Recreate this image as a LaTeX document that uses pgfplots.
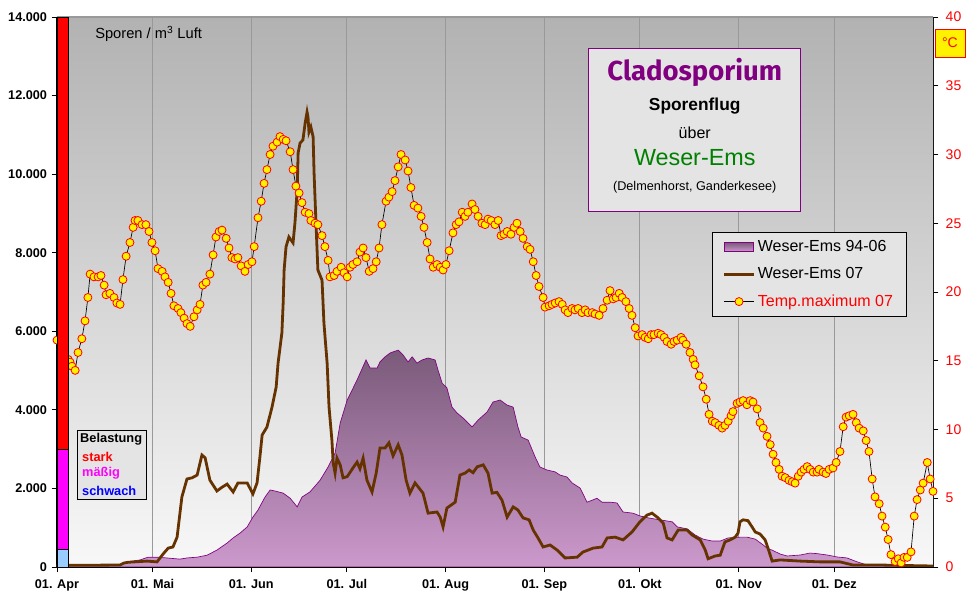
\documentclass[border=0pt]{standalone}
\usepackage{pgfplots}
\pgfplotsset{compat=1.18}
\usepackage{pgfplotstable}
\usepackage{fontspec}
\setmainfont{Liberation Sans}
\newfontfamily\titlefont{Fira Sans}
\definecolor{brownline}{HTML}{663300}
\definecolor{areaTop}{HTML}{7A5A7A}
\definecolor{areaBot}{HTML}{CC99CC}
\definecolor{areaEdge}{HTML}{800080}
\definecolor{bgTop}{HTML}{B2B2B2}
\definecolor{bgBot}{HTML}{F8F8F8}
\definecolor{boxgray}{HTML}{E4E4E4}
\definecolor{titlepurple}{HTML}{800080}
\definecolor{titlegreen}{HTML}{008000}
\definecolor{lightblue}{HTML}{99CCFF}
\definecolor{gridgray}{HTML}{999999}
\definecolor{magentabar}{HTML}{FF00FF}

\pgfplotstableread{
d v
0 60
3.5 60
9.4 60
19.8 60
22.0 130
26.1 180
28.6 250
31.4 250
34.5 230
38.6 200
40.8 230
44.0 250
47.1 300
50.2 430
53.4 610
55.3 740
57.5 865
59.7 1020
61.5 1270
63.1 1450
65.3 1780
66.9 1960
68.4 1935
71.0 1880
73.2 1750
75.4 1530
76.9 1780
79.4 1910
82.6 2210
85.1 2545
87.3 2900
88.9 3665
91.1 4250
94.2 4760
97.0 5270
98.3 5065
100.5 5065
101.4 5220
103.0 5350
104.6 5450
107.1 5520
108.6 5400
110.2 5220
111.5 5350
113.0 5190
114.6 5270
116.5 5320
118.7 5270
119.6 5015
120.9 4680
122.4 4560
124.0 4070
125.6 3920
127.5 3790
130.3 3565
132.2 3740
135.0 3945
136.9 4200
139.1 4250
141.3 4120
143.2 4070
144.7 3565
145.7 3310
147.9 3230
150.1 2800
151.6 2545
153.8 2470
156.4 2420
157.9 2340
160.1 2290
161.7 2140
164.2 2010
166.4 1650
168.0 1700
169.5 1750
171.1 1650
173.6 1650
175.8 1630
177.7 1400
180.8 1370
183.0 1300
185.6 1250
189.3 1200
193.1 1150
194.7 1020
197.8 970
200.3 815
202.8 710
205.7 660
208.2 660
210.7 740
214.4 760
216.6 760
219.2 710
221.7 560
223.2 460
224.5 430
227.0 330
229.2 280
233.3 305
236.4 355
238.6 340
241.8 305
244.9 255
248.0 230
251.2 130
254.3 50
256.2 50
275 25
}\avgdata

\pgfplotstableread{
d v
0 40
19.8 50
21.0 100
22.3 120
28.3 150
31.4 130
33.3 330
34.9 480
36.4 510
37.7 760
39.2 1780
40.8 2240
42.4 2270
44.0 2340
45.5 2850
46.5 2780
48.0 2210
50.2 1935
51.8 2030
53.4 2110
55.3 1910
56.8 2140
59.7 2140
61.5 1860
62.8 2140
63.7 2800
64.4 3360
65.9 3560
67.5 4070
68.8 4580
69.4 5190
70.6 5960
71.0 6720
71.3 7560
71.9 8150
72.8 8400
74.1 8250
74.7 8760
75.4 9600
75.7 10540
76.3 10790
77.2 10870
77.9 11300
78.5 11580
78.8 11450
79.1 11070
79.7 11200
80.4 10950
80.7 10030
81.3 8760
81.9 7560
83.2 7300
83.8 6210
84.8 5190
85.4 4070
86.3 3230
86.7 2650
87.3 2390
87.9 2770
88.9 2600
89.8 2270
91.1 2300
92.9 2520
94.2 2670
95.1 2500
96.1 2770
97.3 2210
98.9 1910
100.2 2390
101.4 3030
103.0 3030
104.2 3160
105.5 2830
107.1 3110
108.3 2850
109.6 2210
110.8 1880
112.4 2140
114.9 1880
116.5 1370
119.3 1400
120.3 1270
121.2 1020
122.4 1500
125.0 1650
126.5 2340
128.1 2390
129.4 2470
130.6 2400
131.9 2550
133.8 2600
135.3 2390
136.6 1880
138.1 1900
139.7 1700
141.3 1270
143.2 1530
144.7 1450
146.3 1250
148.2 1200
149.5 940
151.0 740
152.6 510
154.8 560
157.0 430
159.5 230
163.3 250
165.1 380
168.3 480
171.1 510
172.7 740
175.2 760
177.7 690
180.5 890
183.0 1150
185.2 1320
186.8 1370
188.7 1250
190.3 1120
191.5 740
193.1 690
195.0 940
197.8 940
199.4 815
201.9 690
203.5 430
204.4 210
206.6 280
208.2 300
209.7 640
211.3 690
212.9 760
213.8 865
214.4 1150
215.4 1200
216.9 1180
218.2 1020
219.2 890
220.7 840
222.3 690
223.2 480
224.5 150
227.0 180
233.3 150
239.6 130
245.8 130
249.9 50
258.4 50
275 25
}\wedata

\pgfplotstableread{
d T
0 16.5
1.3 15.8
2.5 15.3
3.5 15.1
4.1 14.9
4.7 14.6
5.7 14.3
6.6 15.6
7.8 16.6
8.8 17.9
9.7 19.6
10.4 21.3
11.6 21.1
12.9 21.1
13.8 21.2
14.8 20.5
15.4 19.8
16.6 19.9
17.9 19.6
18.8 19.2
19.8 19.1
20.7 20.9
21.7 22.6
22.9 23.6
23.9 24.7
24.5 25.2
25.4 25.2
26.7 24.9
27.9 24.9
28.9 24.4
29.8 23.6
30.8 23.0
31.7 21.7
33.0 21.5
33.9 21.1
34.9 20.7
35.8 19.9
36.7 19.0
38.0 18.8
38.9 18.5
39.9 18.1
40.8 17.7
41.8 17.5
43.0 18.2
44.0 18.7
44.9 19.1
45.8 20.5
46.8 20.7
48.0 21.3
49.0 22.7
49.9 24.0
50.9 24.4
51.8 24.5
53.1 23.9
54.0 23.2
54.9 22.5
55.9 22.4
56.8 22.5
57.8 21.9
59.0 21.5
60.0 22.0
61.2 22.2
61.9 23.3
63.1 25.4
64.1 26.6
65.0 27.9
65.9 28.9
66.9 30.0
67.8 30.6
69.1 30.9
70.0 31.3
71.0 31.1
71.9 31.0
73.2 30.2
74.1 28.9
75.0 27.7
76.0 27.2
76.9 26.5
77.9 25.8
79.1 25.7
79.7 25.2
81.0 25.0
81.9 24.9
83.2 24.1
84.1 23.3
85.1 22.3
85.7 21.1
87.0 21.2
87.9 21.5
89.2 21.8
90.1 21.4
91.1 21.1
92.0 21.8
92.9 22.0
94.2 22.2
95.1 22.9
96.1 23.2
97.0 22.5
98.0 21.5
99.2 21.7
100.2 22.2
101.1 23.2
102.0 24.9
103.3 26.6
104.2 26.9
105.2 27.3
106.1 28.1
107.1 29.1
108.0 30.0
109.3 29.6
110.2 28.8
111.1 27.6
112.1 26.3
113.3 26.1
114.3 25.5
115.2 24.7
116.2 23.6
117.1 22.4
118.1 21.8
119.3 22.0
120.3 21.8
121.2 21.6
122.1 22.0
123.1 23.0
124.3 24.3
125.3 24.9
126.2 25.1
127.2 25.8
128.1 25.5
129.0 25.8
130.3 26.4
131.2 26.0
132.2 25.5
133.4 25.0
134.4 24.9
135.3 25.3
136.3 25.2
137.5 24.9
138.5 25.2
139.4 24.1
140.3 24.2
141.3 24.4
142.5 24.2
143.5 24.7
144.4 25.0
145.4 24.4
146.3 23.9
147.6 23.3
148.5 23.1
149.5 22.2
150.4 21.2
151.3 20.4
152.6 19.6
153.2 18.9
154.5 19.0
155.4 19.1
156.4 19.2
157.6 19.3
158.6 19.1
159.5 18.7
160.4 18.5
161.7 18.8
162.6 18.7
163.6 18.8
164.8 18.5
165.8 18.7
166.7 18.5
168.0 18.5
168.9 18.4
170.2 18.3
171.4 18.8
172.7 19.4
173.6 20.1
174.6 19.5
175.5 19.6
176.5 19.9
177.4 19.6
178.6 19.3
179.6 18.8
180.5 18.3
181.5 17.4
182.4 16.8
183.7 16.9
184.6 16.7
185.6 16.6
186.5 16.9
187.4 16.9
188.7 17.0
189.6 16.9
190.6 16.7
191.5 16.4
192.8 16.2
193.7 16.4
194.7 16.5
195.9 16.7
196.5 16.5
197.5 16.2
198.7 15.6
199.7 15.1
200.3 14.7
201.6 13.9
202.8 13.1
203.8 12.2
204.7 11.1
205.7 10.6
206.6 10.5
207.8 10.3
208.8 10.1
209.7 10.3
210.7 10.6
211.6 11.0
212.2 11.3
213.5 11.9
214.4 12.0
215.4 12.1
216.6 11.8
217.6 12.1
218.5 12.0
219.8 11.5
220.7 10.5
221.7 10.1
222.9 9.5
223.9 8.9
224.8 8.2
225.7 7.6
226.7 7.1
227.6 6.6
228.6 6.5
229.8 6.3
230.8 6.2
231.7 6.1
232.7 6.6
233.6 6.9
234.5 7.1
235.5 7.3
236.4 7.1
237.4 6.9
238.6 6.9
239.2 7.1
240.5 6.9
241.4 6.8
242.4 7.1
243.6 7.2
244.6 7.6
245.8 8.4
246.8 10.2
247.7 10.9
248.7 11.0
249.9 11.1
250.9 10.5
251.8 10.1
253.1 9.9
254.0 9.2
254.9 8.4
255.9 6.4
256.8 5.1
258.1 4.6
259.0 3.7
260.0 2.9
260.9 2.0
261.8 0.9
263.1 0.4
264.1 0.6
265.0 0.3
265.9 0.7
266.9 0.7
268.1 1.1
269.1 3.7
270.0 4.9
271.0 5.6
271.9 6.1
273.2 7.6
274.1 6.4
275.0 5.5
}\tempdata

\pgfplotsset{
  common/.style={
    width=657pt, height=412.5pt, scale only axis,
    xmin=0, xmax=275,
    tick align=outside,
    major tick length=4pt,
  }
}

\begin{document}
\begin{tikzpicture}
\begin{axis}[
  common, name=main,
  ymin=0, ymax=14000,
  axis x line*=bottom, axis y line*=left,
  axis line style={black, line width=0.9pt},
  tick style={black, line width=0.7pt},
  xtick={0,30,61,91,122,153,183,214,244},
  xticklabels={01. Apr,01. Mai,01. Jun,01. Jul,01. Aug,01. Sep,01. Okt,01. Nov,01. Dez},
  xticklabel style={font=\bfseries\fontsize{9.5}{11}\selectfont, yshift=-2pt},
  ytick={0,2000,4000,6000,8000,10000,12000,14000},
  yticklabel style={font=\bfseries\fontsize{9.5}{11}\selectfont},
  scaled y ticks=false,
  /pgf/number format/1000 sep={.},
  /pgf/number format/assume math mode=true,
  xmajorgrids, major grid style={gridgray, line width=0.7pt},
  axis background/.style={top color=bgTop, bottom color=bgBot},
]
\addplot[draw=areaEdge, line width=0.5pt, top color=areaTop, bottom color=areaBot] table[x=d,y=v]{\avgdata} \closedcycle;
\addplot[brownline, line width=2.1pt] table[x=d,y=v]{\wedata};
\draw[gridgray, line width=0.8pt] (rel axis cs:0,1) -- (rel axis cs:1,1);
\end{axis}

\begin{axis}[
  common, set layers,
  ymin=0, ymax=40,
  axis y line*=right, axis x line=none,
  axis line style={black, line width=0.9pt},
  tick style={black, line width=0.7pt},
  ytick={0,5,10,15,20,25,30,35,40},
  yticklabel style={red, font=\fontsize{10.5}{12}\selectfont, xshift=2pt},
  /pgf/number format/assume math mode=true,
  clip=false,
  legend style={at={(0.970,0.609)}, anchor=north east, fill=boxgray, draw=black, line width=0.6pt,
    font=\fontsize{12}{14}\selectfont, row sep=6.5pt, inner xsep=8pt, inner ysep=4pt},
  legend cell align=left,
]
\addlegendimage{legend image code/.code={\draw[draw=areaEdge, line width=0.6pt, top color=areaTop, bottom color=areaBot] (0cm,-0.12cm) rectangle (0.78cm,0.12cm);}}
\addlegendentry{Weser-Ems 94-06}
\addlegendimage{legend image code/.code={\draw[brownline, line width=2pt] (0cm,0cm) -- (0.78cm,0cm);}}
\addlegendentry{Weser-Ems 07}
\addplot[black, line width=0.5pt, mark=*, mark size=3pt, mark options={fill=yellow, draw=red, line width=0.6pt},
  legend image code/.code={\draw[black, line width=0.5pt] (0cm,0cm) -- (0.78cm,0cm); \draw[red, fill=yellow, line width=0.6pt] (0.39cm,0cm) circle (3pt);}]
  table[x=d,y=T]{\tempdata};
\addlegendentry{\textcolor{red}{Temp.maximum 07}}

\begin{pgfonlayer}{axis foreground}
% Belastung colour bar
\draw[black, line width=0.7pt, fill=red] (axis cs:0,8.571) rectangle (axis cs:3.45,40);
\draw[black, line width=0.7pt, fill=magentabar] (axis cs:0,1.286) rectangle (axis cs:3.45,8.571);
\draw[black, line width=0.7pt, fill=lightblue] (axis cs:0,0) rectangle (axis cs:3.45,1.286);

% Belastung legend box
\draw[black, line width=0.7pt, fill=boxgray] (rel axis cs:0.0228,0.249) rectangle (rel axis cs:0.1016,0.1236);
\node[anchor=west, font=\bfseries\fontsize{9.6}{10}\selectfont, inner sep=0pt] at (rel axis cs:0.0262,0.232) {Belastung};
\node[anchor=west, font=\bfseries\fontsize{9.6}{10}\selectfont, inner sep=0pt, red] at (rel axis cs:0.0285,0.201) {stark};
\node[anchor=west, font=\bfseries\fontsize{9.6}{10}\selectfont, inner sep=0pt, magentabar] at (rel axis cs:0.0285,0.170) {mäßig};
\node[anchor=west, font=\bfseries\fontsize{9.6}{10}\selectfont, inner sep=0pt, blue] at (rel axis cs:0.0285,0.139) {schwach};

% Spores label
\node[anchor=west, font=\fontsize{11}{12}\selectfont, inner sep=0pt] at (rel axis cs:0.0434,0.969) {Sporen / m\textsuperscript{3} Luft};

% Title box
\draw[titlepurple, fill=boxgray, line width=0.8pt] (rel axis cs:0.607,0.942) rectangle (rel axis cs:0.849,0.647);
\node[titlepurple, font=\titlefont\bfseries\fontsize{20.6}{23}\selectfont] at (rel axis cs:0.728,0.900) {Cladosporium};
\node[black, font=\bfseries\fontsize{13}{15}\selectfont] at (rel axis cs:0.728,0.838) {Sporenflug};
\node[black, font=\fontsize{12}{14}\selectfont] at (rel axis cs:0.728,0.789) {über};
\node[titlegreen, font=\fontsize{17.5}{20}\selectfont] at (rel axis cs:0.728,0.744) {Weser-Ems};
\node[black, font=\fontsize{9.5}{11}\selectfont] at (rel axis cs:0.728,0.691) {(Delmenhorst, Ganderkesee)};

% degree box
\draw[red, fill=yellow, line width=0.7pt] (rel axis cs:1.0023,0.978) rectangle (rel axis cs:1.0365,0.927);
\node[red, font=\fontsize{10.5}{12}\selectfont] at (rel axis cs:1.0194,0.9525) {°C};
\end{pgfonlayer}
\end{axis}

\pgfresetboundingbox
\path[use as bounding box] ([xshift=-42.75pt,yshift=-26.25pt]main.south west) rectangle ([xshift=26.25pt,yshift=12.75pt]main.north east);
\end{tikzpicture}
\end{document}
